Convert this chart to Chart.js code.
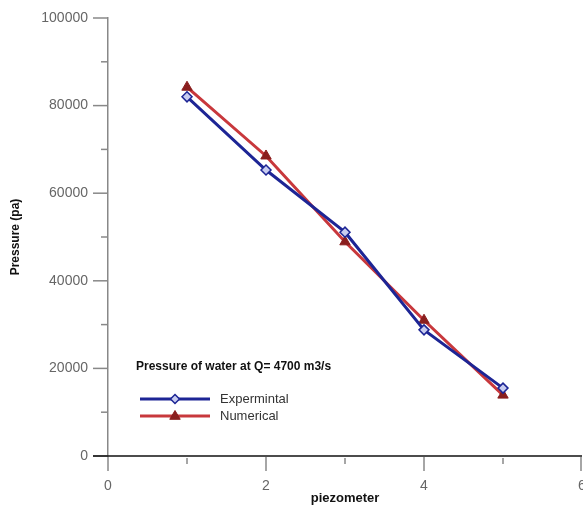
<!DOCTYPE html>
<html>
<head>
<meta charset="utf-8">
<script src="https://cdn.jsdelivr.net/npm/chart.js@4.4.1/dist/chart.umd.min.js"></script>
<style>
	html, body { margin: 0; padding: 0; background: #fff; }
	#wrap { width: 583px; height: 506px; }
</style>
</head>
<body>
<div id="wrap"><canvas id="myChart" width="583" height="506"></canvas></div>
<script>
const piezometers = [1, 2, 3, 4, 5];
const experimental = [82000, 65300, 51100, 28800, 15500];
const numerical = [84200, 68500, 48900, 31000, 13900];
const legendTitle = 'Pressure of water at Q= 4700 m3/s';

const blue = '#1d2595';
const red = '#c8383c';
const darkRed = '#8a1e1e';
const font = '"Liberation Sans", Arial, sans-serif';

const toPoints = arr => arr.map((v, i) => ({x: piezometers[i], y: v}));

// major / minor ticks drawn outside the axes
const tickPlugin = {
	id: 'ticks',
	afterDraw(chart) {
		const ctx = chart.ctx;
		const xs = chart.scales.x;
		const ys = chart.scales.y;
		ctx.save();
		ctx.strokeStyle = '#888';
		ctx.lineWidth = 1.5;
		for (let v = 0; v <= 6; v++) {
			const px = Math.min(xs.getPixelForValue(v), chart.width - 2);
			const major = v % 2 === 0;
			ctx.beginPath();
			ctx.moveTo(px, ys.bottom + (major ? 1 : 2));
			ctx.lineTo(px, ys.bottom + (major ? 15 : 8));
			ctx.stroke();
		}
		for (let v = 0; v <= 100000; v += 10000) {
			const py = ys.getPixelForValue(v);
			const major = v % 20000 === 0;
			ctx.beginPath();
			ctx.moveTo(xs.left - (major ? 15 : 7), py);
			ctx.lineTo(xs.left, py);
			ctx.stroke();
		}
		// x axis line in black, a bit past the y axis
		ctx.strokeStyle = '#111';
		ctx.lineWidth = 1.5;
		ctx.beginPath();
		ctx.moveTo(xs.left - 15, ys.bottom);
		ctx.lineTo(xs.right, ys.bottom);
		ctx.stroke();
		ctx.restore();
	}
};

function drawMarker(ctx, style, x, y, r) {
	if (style === 'triangle') {
		ctx.moveTo(x, y - r);
		ctx.lineTo(x + r * 0.95, y + r * 0.6);
		ctx.lineTo(x - r * 0.95, y + r * 0.6);
		ctx.closePath();
	} else {
		ctx.moveTo(x, y - r);
		ctx.lineTo(x + r, y);
		ctx.lineTo(x, y + r);
		ctx.lineTo(x - r, y);
		ctx.closePath();
	}
}

// legend inside the plot area
const legendPlugin = {
	id: 'innerLegend',
	afterDraw(chart) {
		const ctx = chart.ctx;
		const a = chart.chartArea;
		const x0 = a.left + 28;
		const y0 = a.top + 349;
		ctx.save();
		ctx.fillStyle = '#111';
		ctx.font = 'bold 12px ' + font;
		ctx.textBaseline = 'middle';
		ctx.fillText(legendTitle, x0, y0);
		chart.data.datasets.forEach((ds, i) => {
			const y = y0 + 32 + i * 17;
			ctx.strokeStyle = ds.borderColor;
			ctx.lineWidth = 3;
			ctx.beginPath();
			ctx.moveTo(x0 + 4, y);
			ctx.lineTo(x0 + 74, y);
			ctx.stroke();
			ctx.fillStyle = ds.pointBackgroundColor;
			ctx.strokeStyle = ds.pointBorderColor;
			ctx.lineWidth = ds.pointBorderWidth;
			ctx.beginPath();
			drawMarker(ctx, ds.pointStyle, x0 + 39, y, ds.pointRadius - 0.5);
			ctx.fill();
			ctx.stroke();
			ctx.fillStyle = '#333';
			ctx.font = '13px ' + font;
			ctx.fillText(ds.label, x0 + 84, y);
		});
		ctx.restore();
	}
};

const data = {
	datasets: [{
		label: 'Expermintal',
		data: toPoints(experimental),
		borderColor: blue,
		borderWidth: 3,
		pointStyle: 'rectRot',
		pointRadius: 5,
		pointBorderWidth: 1.5,
		pointBorderColor: blue,
		pointBackgroundColor: '#c8ccf0',
		tension: 0
	}, {
		label: 'Numerical',
		data: toPoints(numerical),
		borderColor: red,
		borderWidth: 3,
		pointStyle: 'triangle',
		pointRadius: 6,
		pointBorderWidth: 1,
		pointBorderColor: darkRed,
		pointBackgroundColor: darkRed,
		tension: 0
	}]
};

const options = {
	responsive: false,
	maintainAspectRatio: false,
	animation: false,
	layout: {autoPadding: false, padding: {top: 18, right: 1, left: 0, bottom: 0}},
	plugins: {legend: {display: false}, tooltip: {enabled: false}},
	scales: {
		x: {
			type: 'linear',
			min: 0,
			max: 6,
			grid: {display: false, drawTicks: false},
			border: {display: false},
			ticks: {
				stepSize: 1,
				padding: 22,
				color: '#666',
				font: {family: font, size: 14},
				maxRotation: 0,
				autoSkip: false,
				callback: v => (v % 2 === 0 ? String(v) : '')
			},
			title: {
				display: true,
				text: 'piezometer',
				color: '#111',
				font: {family: font, size: 13, weight: 'bold'},
				padding: {top: -4, bottom: 0}
			},
			afterFit(scale) {
				scale.height = 50;
				scale.paddingLeft = 0;
				scale.paddingRight = 0;
			}
		},
		y: {
			min: 0,
			max: 100000,
			grid: {display: false, drawTicks: false},
			border: {display: true, color: '#888', width: 1.5},
			ticks: {
				stepSize: 10000,
				padding: 20,
				color: '#666',
				font: {family: font, size: 14},
				autoSkip: false,
				callback: v => (v % 20000 === 0 ? String(v) : '')
			},
			title: {
				display: true,
				text: 'Pressure (pa)',
				color: '#111',
				font: {family: font, size: 12, weight: 'bold'},
				padding: {top: 8, bottom: 0}
			},
			afterFit(scale) {
				scale.width = 108;
				scale.paddingTop = 0;
				scale.paddingBottom = 0;
			}
		}
	}
};

const ctx = document.getElementById('myChart').getContext('2d');
const myChart = new Chart(ctx, {type: 'line', data, options, plugins: [tickPlugin, legendPlugin]});
</script>
</body>
</html>
